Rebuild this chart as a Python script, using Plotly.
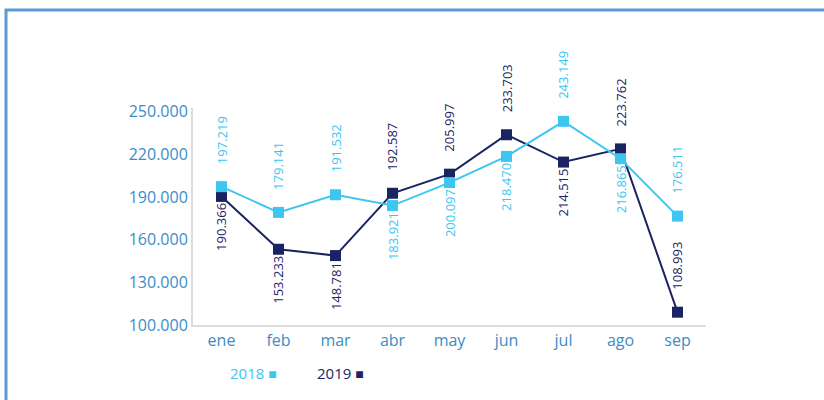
import plotly.graph_objects as go

months = ["ene", "feb", "mar", "abr", "may", "jun", "jul", "ago", "sep"]
v2018 = [197219, 179141, 191532, 183921, 200097, 218470, 243149, 216865, 176511]
v2019 = [190366, 153233, 148781, 192587, 205997, 233703, 214515, 223762, 108993]
pos2018 = ["up", "up", "up", "down", "down", "down", "up", "down", "up"]
pos2019 = ["down", "down", "down", "up", "up", "up", "down", "up", "up"]
ytick_vals = [100000, 130000, 160000, 190000, 220000, 250000]
ytick_text = ["100.000", "130.000", "160.000", "190.000", "220.000", "250.000"]

C18 = "#3cc6f0"
C19 = "#1b2462"
TICK = "#3a8dc5"
AXIS = "#dcdcdc"

def fmt(v):
    return f"{v:,}".replace(",", ".")

fig = go.Figure()
fig.add_trace(go.Scatter(x=months, y=v2019, mode="lines+markers", name="2019",
                         line=dict(color=C19, width=2),
                         marker=dict(symbol="square", size=11, color=C19)))
fig.add_trace(go.Scatter(x=months, y=v2018, mode="lines+markers", name="2018",
                         line=dict(color=C18, width=2),
                         marker=dict(symbol="square", size=11, color=C18)))

annotations = []
for vals, poss, col in [(v2018, pos2018, C18), (v2019, pos2019, C19)]:
    for m, v, p in zip(months, vals, poss):
        annotations.append(dict(
            x=m, y=v, xref="x", yref="y", text=fmt(v), showarrow=False,
            textangle=-90, font=dict(family="Open Sans", size=13, color=col),
            xanchor="center", yanchor="bottom" if p == "up" else "top",
            yshift=20 if p == "up" else -5))

# legend texts
annotations.append(dict(xref="paper", yref="paper", x=0.068, y=-0.22,
                        xanchor="left", yanchor="middle", showarrow=False,
                        text="2018 <span style='font-size:14px'>■</span>",
                        font=dict(family="Open Sans", size=15, color=C18)))
annotations.append(dict(xref="paper", yref="paper", x=0.238, y=-0.22,
                        xanchor="left", yanchor="middle", showarrow=False,
                        text="2019 <span style='font-size:14px'>■</span>",
                        font=dict(family="Open Sans", size=15, color=C19)))

fig.update_layout(
    width=824, height=400,
    margin=dict(l=193, r=118, t=108, b=75),
    paper_bgcolor="white", plot_bgcolor="white",
    showlegend=False,
    annotations=annotations,
    shapes=[dict(type="rect", xref="paper", yref="paper",
                 x0=-0.3645, x1=1.6, y0=-1.0, y1=1.4516,
                 line=dict(color="#5b9bd5", width=3), layer="below")],
    xaxis=dict(range=[-0.5, 8.5], showgrid=False, zeroline=False,
               showline=True, linecolor=AXIS, linewidth=2, ticks="",
               tickfont=dict(family="Open Sans", size=16, color=TICK)),
    yaxis=dict(range=[100000, 252500], showgrid=False, zeroline=False,
               showline=True, linecolor=AXIS, linewidth=2, ticks="",
               tickvals=ytick_vals, ticktext=ytick_text,
               tickfont=dict(family="Open Sans", size=16, color=TICK)),
)

fig.write_html("out.html", config={"displayModeBar": False},
               post_script="document.body.style.margin='0';document.body.style.overflow='hidden';")
